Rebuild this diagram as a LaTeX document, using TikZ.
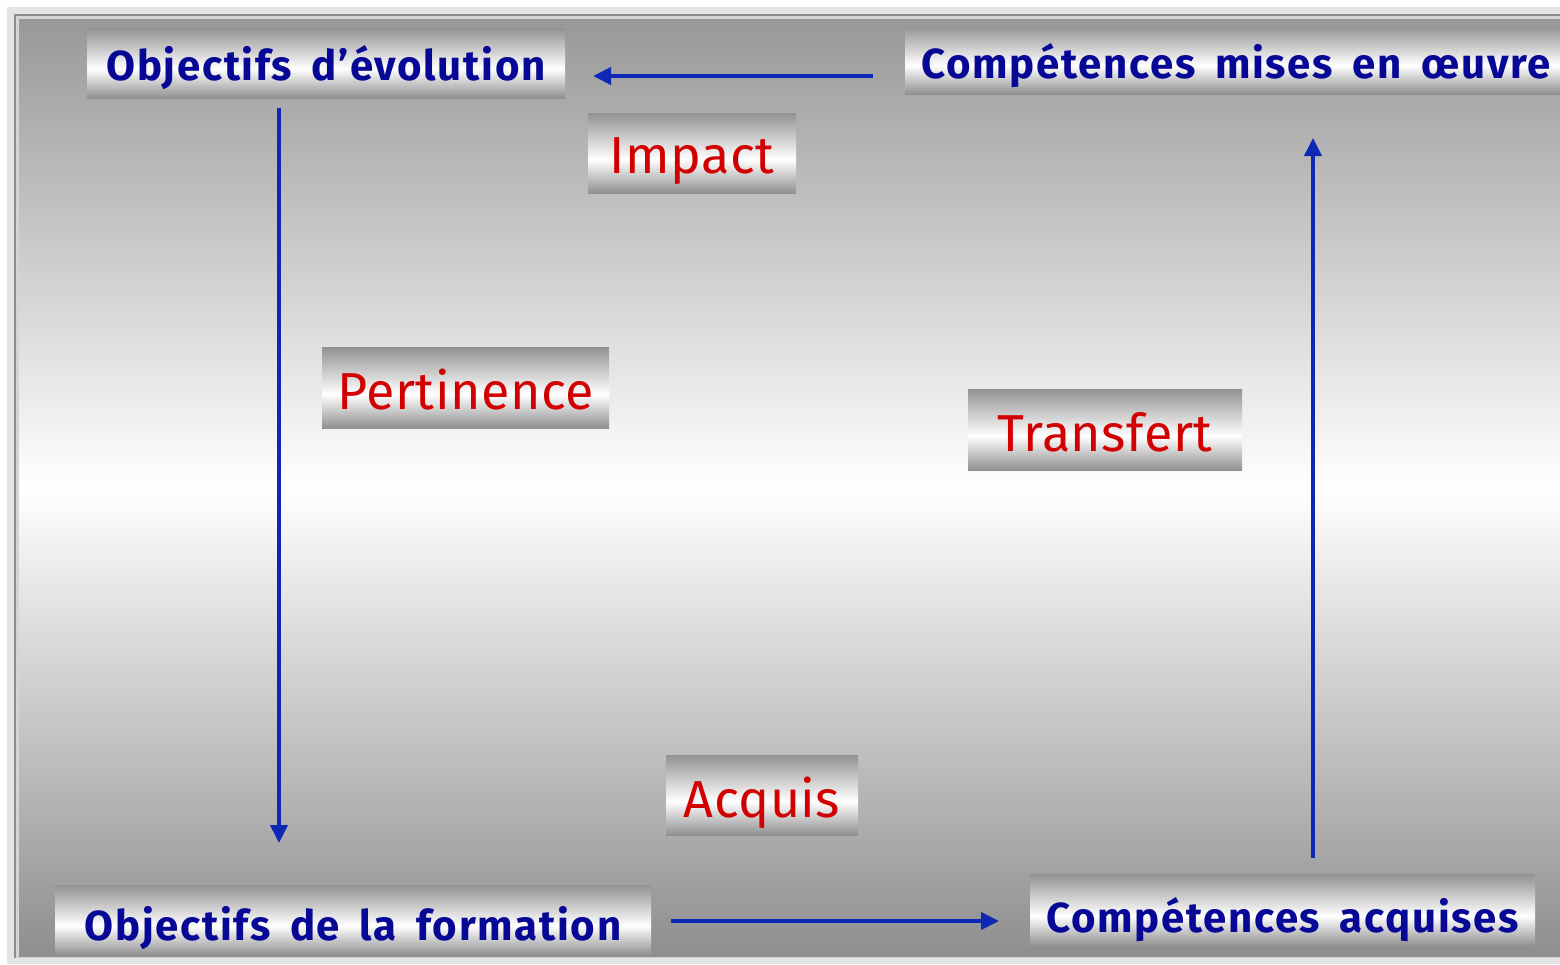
\documentclass[tikz,border=0pt]{standalone}
\usepackage{fontspec}
\setmainfont{Fira Sans}
\newfontfamily\bluefont[LetterSpace=4, WordSpace=1.7]{Fira Sans}
\newfontfamily\redfont[LetterSpace=1]{Fira Sans}
\usetikzlibrary{arrows.meta}
\definecolor{txtblue}{RGB}{8,8,150}
\definecolor{txtred}{RGB}{210,0,0}
\definecolor{arrblue}{RGB}{12,40,180}
\definecolor{bgt}{RGB}{152,152,152}
\definecolor{bgb}{RGB}{142,142,142}
\definecolor{bxt}{RGB}{146,146,146}
\definecolor{bxb}{RGB}{144,144,144}
\definecolor{framelight}{RGB}{228,228,228}
\definecolor{framedark}{RGB}{140,140,140}
\definecolor{framemid}{RGB}{212,212,212}
\pgfdeclareverticalshading{bgshade}{100bp}{color(0bp)=(bgb); color(25bp)=(bgb); color(50bp)=(white); color(75bp)=(bgt); color(100bp)=(bgt)}
\pgfdeclareverticalshading{boxshade}{100bp}{color(0bp)=(bxb); color(25bp)=(bxb); color(46bp)=(white); color(75bp)=(bxt); color(100bp)=(bxt)}
\tikzset{
  lbox/.style={shading=boxshade, inner sep=0pt, text depth=0pt, anchor=center},
  bluetxt/.style={lbox, text=txtblue, font=\bluefont\fontsize{42}{50}\selectfont\bfseries},
  redtxt/.style={lbox, text=txtred, font=\redfont\fontsize{52}{62}\selectfont},
  conn/.style={draw=arrblue, line width=3.8pt, -{Triangle[length=18pt,width=17pt]}}
}
\begin{document}
\begin{tikzpicture}[x=1pt,y=-1pt]
\useasboundingbox (0,0) rectangle (1560,964);
\fill[white] (0,0) rectangle (1560,964);
\fill[framelight] (7,7) rectangle (1560,964);
\fill[framedark] (14,14) rectangle (1560,958);
\fill[framemid] (16,16) rectangle (1560,958);
\shade[shading=bgshade] (19,19) rectangle (1560,956);

\node[bluetxt, minimum width=478pt, minimum height=70pt, text height=34pt] (od) at (326,63) {Objectifs d’évolution};
\node[bluetxt, minimum width=662pt, minimum height=68pt, text height=36pt] (cm) at (1236,60) {Compétences mises en œuvre};
\node[redtxt, minimum width=208pt, minimum height=80pt, text height=40pt] (imp) at (692,153) {Impact};
\node[redtxt, minimum width=287pt, minimum height=81pt, text height=43pt] (per) at (465.5,387.5) {Pertinence};
\node[redtxt, minimum width=274pt, minimum height=81pt, text height=43pt] (tra) at (1105,429.5) {Transfert};
\node[redtxt, minimum width=192pt, minimum height=80pt, text height=44pt] (acq) at (762,795) {Acquis};
\node[bluetxt, minimum width=596pt, minimum height=70pt, text height=40pt] (of) at (353,920) {Objectifs de la formation};
\node[bluetxt, minimum width=505pt, minimum height=72pt, text height=44pt] (ca) at (1282.5,910) {Compétences acquises};

\coordinate (a1s) at (873,76);
\coordinate (a1e) at (593,76);
\coordinate (a2s) at (279,108);
\coordinate (a2e) at (279,843);
\coordinate (a3s) at (671,921);
\coordinate (a3e) at (999,921);
\coordinate (a4s) at (1313,858);
\coordinate (a4e) at (1313,138);
\draw[conn] (a1s) -- (a1e);
\draw[conn] (a2s) -- (a2e);
\draw[conn] (a3s) -- (a3e);
\draw[conn] (a4s) -- (a4e);
\end{tikzpicture}
\end{document}
